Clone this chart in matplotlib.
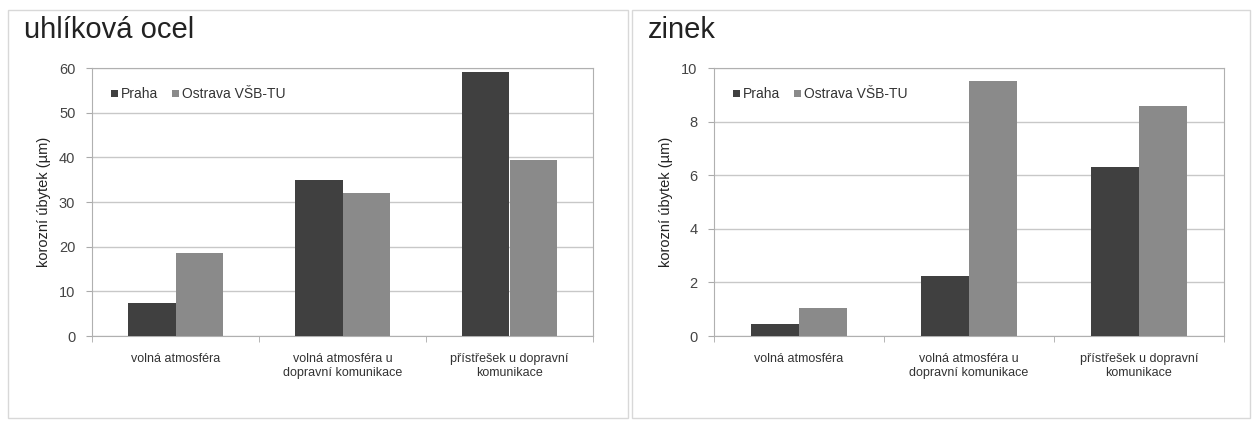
import numpy as np
import matplotlib.pyplot as plt
from matplotlib.patches import Rectangle

plt.rcParams['font.family'] = ['Liberation Sans', 'DejaVu Sans']

# kategorie expozice
mista = ["volná atmosféra",
         "volná atmosféra u\ndopravní komunikace",
         "přístřešek u dopravní\nkomunikace"]
serie = ["Praha", "Ostrava VŠB-TU"]

# korozní úbytek (µm)
ocel_praha = [7.5, 35, 59]
ocel_ostrava = [18.5, 32, 39.5]
zinek_praha = [0.45, 2.25, 6.3]
zinek_ostrava = [1.05, 9.5, 8.6]

barvy = ["#404040", "#8a8a8a"]

fig = plt.figure(figsize=(12.55, 4.21), dpi=100)

# ramecky kolem obou grafu
for x0, x1 in [(8, 628), (632, 1250)]:
    fig.patches.append(Rectangle((x0 / 1255, 3 / 421), (x1 - x0) / 1255, 408 / 421,
                                 transform=fig.transFigure, fill=False,
                                 edgecolor="#d8d8d8", lw=1))


def graf(ax, nazev, praha, ostrava, ymax, krok, title_x):
    x = np.arange(len(mista))
    w = 0.285
    ax.bar(x - w / 2, praha, w, color=barvy[0], label=serie[0], zorder=3)
    ax.bar(x + w / 2, ostrava, w, color=barvy[1], label=serie[1], zorder=3)
    ax.set_xlim(-0.5, len(mista) - 0.5)
    ax.set_ylim(0, ymax)
    ax.set_yticks(np.arange(0, ymax + krok / 2, krok))
    ax.set_xticks(x)
    ax.set_xticklabels(mista, fontsize=9, color="#333333", linespacing=1.25)
    ax.set_xticks(np.arange(-0.5, len(mista)), minor=True)
    ax.tick_params(axis="x", which="major", length=0, pad=12)
    ax.tick_params(axis="x", which="minor", length=4, color="#aaaaaa")
    ax.tick_params(axis="y", length=4, color="#aaaaaa", labelsize=10.5,
                   labelcolor="#444444", pad=8)
    ax.grid(axis="y", color="#c8c8c8", lw=1, zorder=0)
    for s in ax.spines.values():
        s.set_color("#b0b0b0")
    ax.set_ylabel("korozní úbytek (µm)", fontsize=10.5, color="#222222", labelpad=6)
    leg = ax.legend(loc="upper left", ncol=2, frameon=False, fontsize=10,
                    handlelength=0.5, handleheight=0.5, handletextpad=0.2,
                    columnspacing=1.0, borderaxespad=1.0)
    for t in leg.get_texts():
        t.set_color("#333333")
    fig.text(title_x, 0.928, nazev, fontsize=21, color="#222222", va="center")


ax1 = fig.add_axes([92 / 1255, 85 / 421, 501 / 1255, 268 / 421])
graf(ax1, "uhlíková ocel", ocel_praha, ocel_ostrava, 60, 10, 24 / 1255)

ax2 = fig.add_axes([714 / 1255, 85 / 421, 510 / 1255, 268 / 421])
graf(ax2, "zinek", zinek_praha, zinek_ostrava, 10, 2, 648 / 1255)

plt.savefig("out.png", dpi=100)
